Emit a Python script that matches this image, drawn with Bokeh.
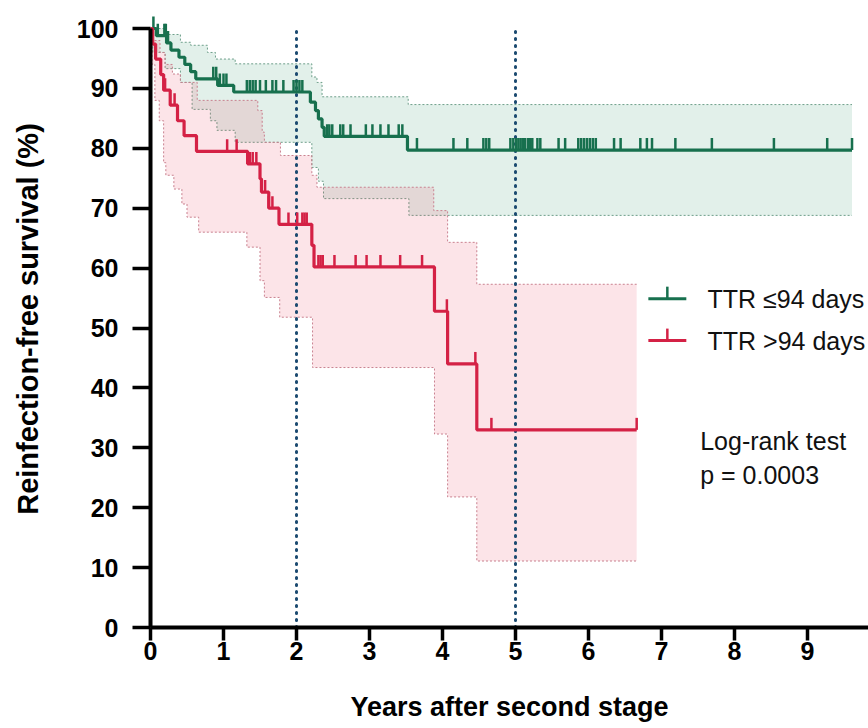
import numpy as np
from bokeh.plotting import figure
from bokeh.models import FixedTicker, Label
from bokeh.embed import file_html
from bokeh.resources import INLINE

# ---------------- data ----------------
# TTR <= 94 days (green)
g_times = [0, 0.08, 0.22, 0.28, 0.39, 0.47, 0.55, 0.62, 0.92, 1.14, 2.19, 2.26, 2.30, 2.35, 2.38, 3.52]
g_surv = [100, 98.8, 97.6, 96.4, 95.2, 94.0, 92.8, 91.6, 90.5, 89.4, 87.7, 86.3, 84.9, 83.5, 82.0, 79.7]
g_end = 9.61
g_censor = [0.04, 0.10, 0.19, 0.21, 0.24, 0.86, 0.90, 0.95, 1.00, 1.04, 1.32, 1.36, 1.40, 1.44,
            1.50, 1.58, 1.67, 1.72, 1.82, 1.96, 2.00, 2.04, 2.08, 2.42, 2.45, 2.49, 2.60, 2.64,
            2.74, 2.95, 3.04, 3.15, 3.26, 3.40, 3.45, 3.65, 4.15, 4.34, 4.56, 4.60, 4.64, 4.93,
            4.97, 5.01, 5.04, 5.07, 5.10, 5.13, 5.17, 5.20, 5.23, 5.30, 5.34, 5.59, 5.68, 5.86,
            5.90, 5.94, 5.98, 6.02, 6.06, 6.10, 6.35, 6.44, 6.71, 6.80, 6.87, 7.19, 7.69, 8.54,
            9.27, 9.61]
g_up_times = [0, 0.19, 0.41, 0.55, 0.78, 0.89, 1.16, 2.21, 2.28, 2.35, 3.53]
g_up_vals = [100, 99.0, 97.7, 97.2, 96.0, 94.9, 94.1, 91.9, 91.0, 88.6, 87.3]
g_lo_times = [0, 0.03, 0.20, 0.41, 0.57, 0.82, 0.91, 1.16, 2.21, 2.30, 2.37, 3.54]
g_lo_vals = [100, 96.0, 93.3, 91.0, 86.5, 84.6, 83.0, 81.0, 76.8, 74.5, 71.6, 68.8]

# TTR > 94 days (red)
r_times = [0, 0.03, 0.07, 0.14, 0.18, 0.27, 0.37, 0.46, 0.63, 1.33, 1.50, 1.52, 1.62, 1.76,
           2.21, 2.24, 3.89, 4.07, 4.47]
r_surv = [100, 97.4, 94.9, 92.3, 89.7, 87.2, 84.6, 82.1, 79.5, 77.4, 74.9, 72.7, 70.0, 67.3,
          63.8, 60.2, 52.8, 44.0, 33.0]
r_end = 6.66
r_censor = [0.20, 0.33, 1.05, 1.18, 1.36, 1.40, 1.45, 1.57, 1.62, 1.67, 1.89, 2.01, 2.08, 2.11,
            2.14, 2.30, 2.33, 2.36, 2.52, 2.81, 2.96, 3.15, 3.42, 3.72, 4.06, 4.45, 4.67, 6.66]
r_up_times = [0, 0.03, 0.13, 0.20, 0.30, 0.41, 0.64, 1.47, 1.53, 1.56, 1.78, 2.21, 2.28, 3.88, 4.07, 4.47]
r_up_vals = [100, 98.0, 96.0, 94.0, 92.4, 91.0, 88.0, 86.3, 82.7, 81.0, 78.8, 75.5, 73.5, 69.6, 64.3, 57.3]
r_lo_times = [0, 0.02, 0.06, 0.12, 0.18, 0.21, 0.32, 0.43, 0.50, 0.66, 1.32, 1.50, 1.56, 1.77,
              2.22, 3.89, 4.07, 4.47]
r_lo_vals = [100, 94.0, 88.0, 84.6, 77.6, 75.5, 73.2, 70.7, 68.5, 66.0, 63.5, 57.9, 55.1, 51.8,
             43.4, 32.3, 21.8, 11.1]

x_ticks = list(range(0, 10))
y_ticks = list(range(0, 101, 10))
ref_years = [2, 5]
series_names = ["TTR \u226494 days", "TTR >94 days"]

# ---------------- styles ----------------
GREEN = "#17704e"
RED = "#d42145"
GREEN_FILL = "#3e9b73"
RED_FILL = "#eb4b66"
FONT = "Liberation Sans"


def step_at(times, vals, t):
    idx = np.searchsorted(np.asarray(times, float), np.asarray(t, float), side="right") - 1
    return np.asarray(vals, float)[np.clip(idx, 0, None)]


def path(times, vals, end):
    return list(times) + [end], list(vals) + [vals[-1]]


p = figure(width=868, height=728, output_backend="svg", toolbar_location=None,
           x_range=(0, 718 / 73.0), y_range=(0, 617 / 5.99),
           min_border_left=150, min_border_right=0, min_border_top=10, min_border_bottom=101)
p.outline_line_color = None
p.xgrid.visible = False
p.ygrid.visible = False
p.background_fill_color = "white"

# confidence bands
for (ut, uv, lt, lv, end, fill, border) in [
        (g_up_times, g_up_vals, g_lo_times, g_lo_vals, g_end, GREEN_FILL, "#6e9f8a"),
        (r_up_times, r_up_vals, r_lo_times, r_lo_vals, r_end, RED_FILL, "#c9808f")]:
    grid = np.unique(np.concatenate([ut, lt, [end]]))
    up = step_at(ut, uv, grid)
    lo = step_at(lt, lv, grid)
    p.varea_step(x=grid, y1=lo, y2=up, step_mode="after", fill_color=fill, fill_alpha=0.15)
    for tt, vv in [(ut, uv), (lt, lv)]:
        xs, ys = path(tt, vv, end)
        p.step(xs, ys, mode="after", line_color=border, line_width=1, line_dash="2 2")

# reference vertical dotted lines
p.segment(x0=ref_years, y0=[0] * len(ref_years), x1=ref_years, y1=[100] * len(ref_years),
          line_color="#1b4a70", line_width=3, line_dash="1 6", line_cap="round")

# KM curves and censor ticks
for (tt, ss, end, cens, col) in [(g_times, g_surv, g_end, g_censor, GREEN),
                                 (r_times, r_surv, r_end, r_censor, RED)]:
    xs, ys = path(tt, ss, end)
    p.step(xs, ys, mode="after", line_color=col, line_width=3.2)
    cv = step_at(tt, ss, cens)
    p.segment(x0=cens, y0=cv, x1=cens, y1=cv + 2.0, line_color=col, line_width=2.5)

# legend (manual)
leg_x0, leg_x1, leg_text_x = 6.82, 7.34, 7.63
for name, col, ly in [(series_names[0], GREEN, 54.9), (series_names[1], RED, 47.9)]:
    p.segment(x0=[leg_x0], y0=[ly], x1=[leg_x1], y1=[ly], line_color=col, line_width=3)
    mid = (leg_x0 + leg_x1) / 2
    p.segment(x0=[mid], y0=[ly], x1=[mid], y1=[ly + 2.0], line_color=col, line_width=2.5)
    p.add_layout(Label(x=leg_text_x, y=ly, text=name, text_baseline="middle",
                       text_font=FONT, text_font_size="25px", text_color="#111111"))

p.add_layout(Label(x=7.53, y=31.1, text="Log-rank test", text_baseline="middle",
                   text_font=FONT, text_font_size="25px", text_color="#111111"))
p.add_layout(Label(x=7.53, y=25.5, text="p = 0.0003", text_baseline="middle",
                   text_font=FONT, text_font_size="25px", text_color="#111111"))

# axes
p.xaxis.ticker = FixedTicker(ticks=x_ticks)
p.yaxis.ticker = FixedTicker(ticks=y_ticks)
p.yaxis.bounds = (0, 100)
for ax in (p.xaxis, p.yaxis):
    ax.axis_line_width = 4
    ax.axis_line_color = "black"
    ax.major_tick_line_width = 3.5
    ax.major_tick_line_color = "black"
    ax.major_tick_in = 0
    ax.minor_tick_line_color = None
    ax.major_label_text_font = FONT
    ax.major_label_text_font_style = "bold"
    ax.major_label_text_font_size = "25px"
    ax.major_label_text_color = "black"
    ax.axis_label_text_font = FONT
    ax.axis_label_text_font_style = "bold"
    ax.axis_label_text_color = "black"
p.xaxis.axis_label_text_font_size = "27px"
p.yaxis.axis_label_text_font_size = "29px"
p.xaxis.major_tick_out = 13
p.xaxis.major_label_standoff = 1
p.yaxis.major_tick_out = 18
p.yaxis.major_label_standoff = 14
p.xaxis.axis_label = "Years after second stage"
p.xaxis.axis_label_standoff = 29
p.yaxis.axis_label = "Reinfection-free survival (%)"
p.yaxis.axis_label_standoff = 30

open("out.html", "w").write(file_html(p, INLINE))
